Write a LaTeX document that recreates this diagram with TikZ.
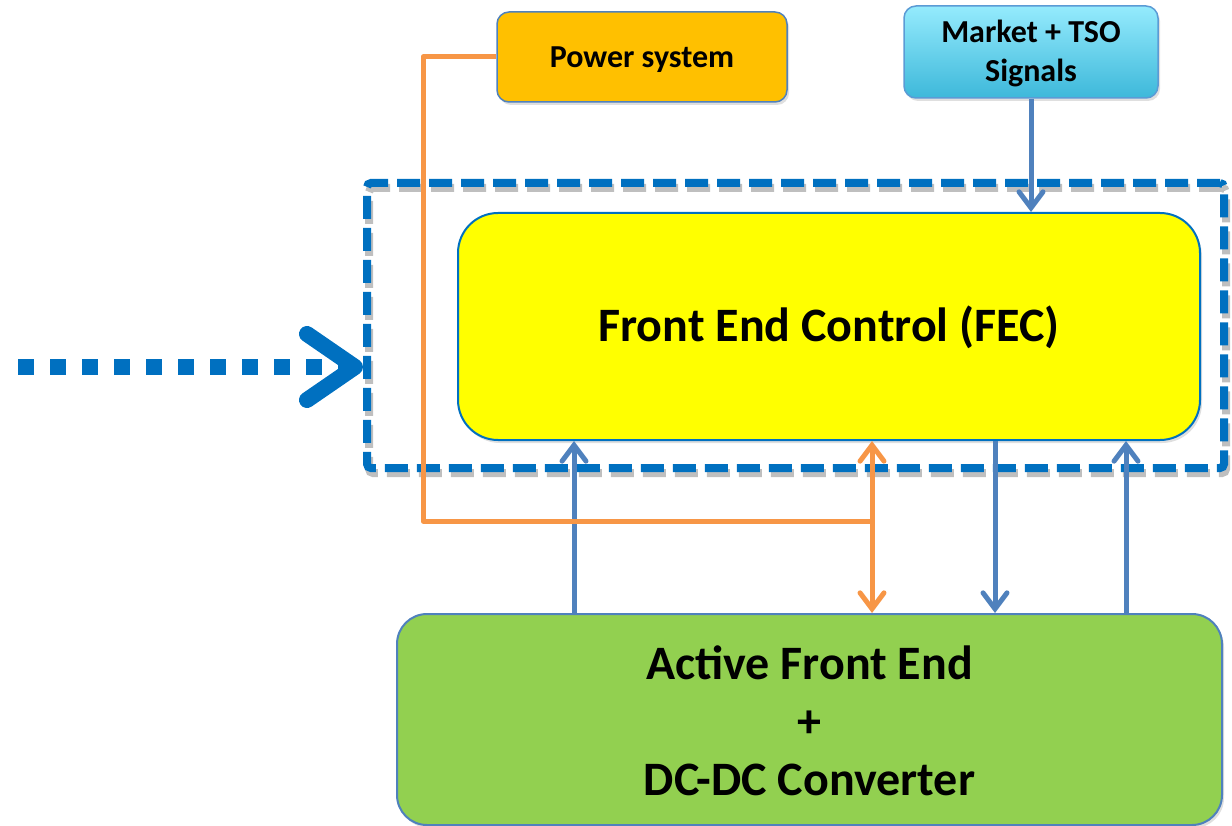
\documentclass[tikz,border=0pt]{standalone}
\usepackage{fontspec}
\setmainfont{Carlito}
\usetikzlibrary{arrows.meta,shadows,calc}
\definecolor{dashblue}{HTML}{0070C0}
\definecolor{linkblue}{HTML}{4F81BD}
\definecolor{linkorange}{HTML}{F79646}
\definecolor{psfill}{HTML}{FFC000}
\definecolor{fecfill}{HTML}{FFFF00}
\definecolor{afefill}{HTML}{92D050}
\definecolor{mktop}{HTML}{95EBFD}
\definecolor{mkbot}{HTML}{3DB8DA}
\definecolor{mkedge}{HTML}{5B9BD5}
\tikzset{
  boxbase/.style={rectangle, inner sep=0pt, align=center, font=\bfseries,
    drop shadow={shadow xshift=2pt, shadow yshift=-3pt, opacity=0.25}},
  psbox/.style={boxbase, rounded corners=12pt, fill=psfill, draw=linkblue, line width=1.5pt,
    minimum width=290pt, minimum height=90pt, font=\fontsize{32}{38}\selectfont\bfseries,
    text height=22pt, text depth=-4pt},
  mkbox/.style={boxbase, rounded corners=12pt, top color=mktop, bottom color=mkbot, draw=mkedge, line width=1.5pt,
    minimum width=254pt, minimum height=92pt, font=\fontsize{32}{39}\selectfont\bfseries,
    text height=60pt, text depth=0pt},
  fecbox/.style={boxbase, rounded corners=40pt, fill=fecfill, draw=dashblue, line width=2pt,
    minimum width=742pt, minimum height=227pt, font=\fontsize{48}{58}\selectfont\bfseries,
    text height=30pt, text depth=-5pt},
  afebox/.style={boxbase, rounded corners=30pt, fill=afefill, draw=linkblue, line width=2pt,
    minimum width=825pt, minimum height=211pt, font=\fontsize{48}{58}\selectfont\bfseries,
    text height=151pt, text depth=0pt},
  dashbox/.style={rectangle, inner sep=0pt, rounded corners=4pt, draw=dashblue, line width=8pt,
    dash pattern=on 23pt off 9pt, minimum width=857pt, minimum height=285pt,
    preaction={draw=black!25, transform canvas={xshift=2pt,yshift=-5pt}}},
  blink/.style={draw=linkblue, line width=5pt, -{Straight Barb[length=16pt,width=24pt,line cap=round]}},
  olink/.style={draw=linkorange, line width=5pt},
  oarrows/.style={olink, {Straight Barb[length=16pt,width=24pt,line cap=round]}-{Straight Barb[length=16pt,width=24pt,line cap=round]}},
  dotlink/.style={draw=dashblue, line width=16pt, dash pattern=on 16pt off 16pt,
    -{Straight Barb[length=48pt,width=66pt,line cap=round,line join=round]}},
}
\begin{document}
\begin{tikzpicture}[x=1pt,y=-1pt]
\useasboundingbox (0,0) rectangle (1232,826);
\clip (0,0) rectangle (1232,826);
% boxes
\node[dashbox] (dash) at (795.5,325.5) {};
\node[fecbox] (fec) at (829,326.5) {Front End Control (FEC)};
\node[afebox] (afe) at (809.5,719.5) {Active Front End\\+\\DC-DC Converter};
\node[psbox] (ps) at (642,57) {Power system};
\node[mkbox] (mk) at (1031,52) {Market + TSO\\Signals};
\coordinate (src) at (18,367);
\coordinate (ojoin) at (872,521);
% connectors
\draw[dotlink] (src) -- (dash.west |- src);
\draw[blink] (mk.south) -- (fec.north -| mk.south);
\draw[blink] (afe.north -| 574,0) -- (fec.south -| 574,0);
\draw[blink] (fec.south -| 995,0) -- (afe.north -| 995,0);
\draw[blink] (afe.north -| 1126,0) -- (fec.south -| 1126,0);
\draw[olink, line join=round] (ps.west) -| (423,521) -- (ojoin);
\draw[oarrows] (fec.south -| ojoin) -- (afe.north -| ojoin);
\end{tikzpicture}
\end{document}
